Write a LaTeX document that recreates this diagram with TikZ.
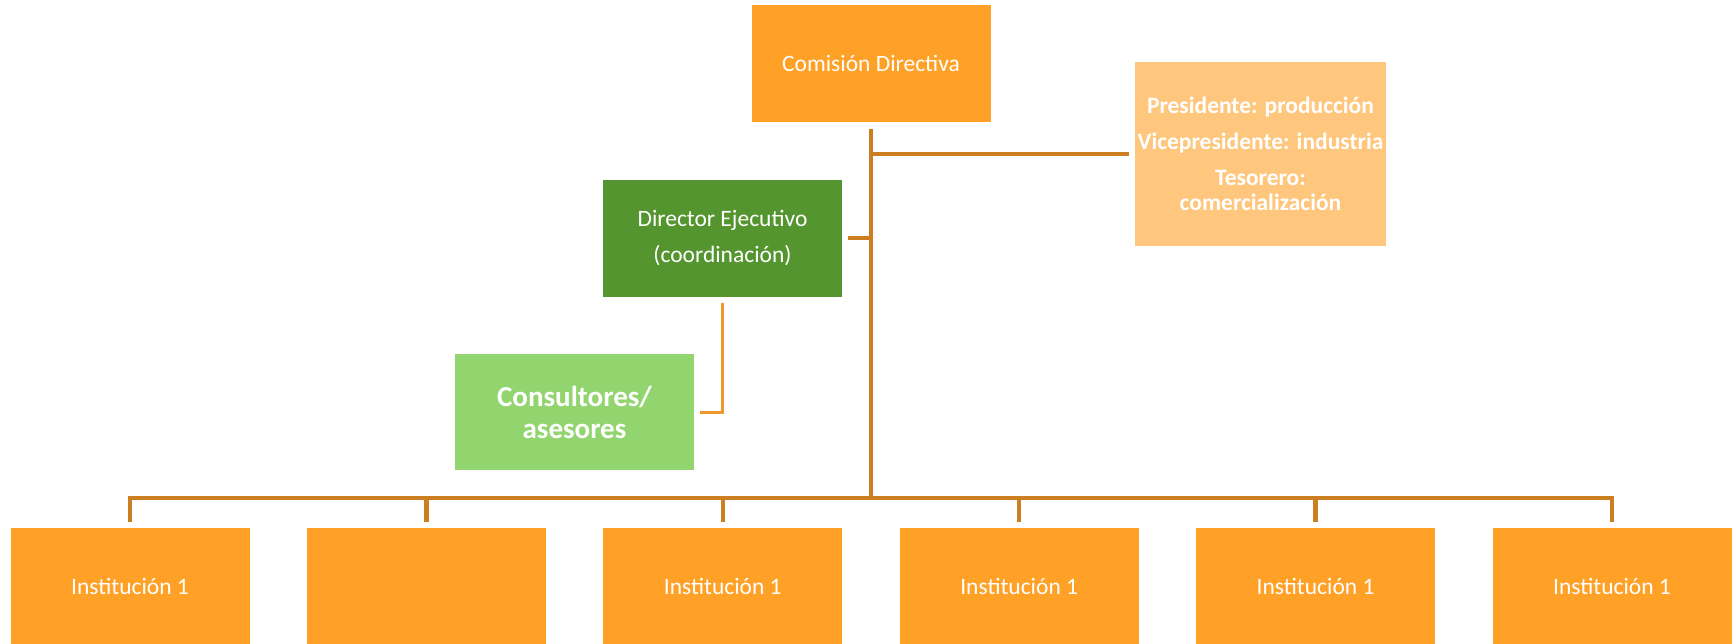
\documentclass[tikz,border=0pt]{standalone}
\usepackage{fontspec}
\setmainfont{Carlito}
\usepackage{tikz}
\usetikzlibrary{calc}
\definecolor{naranja}{HTML}{FFA126}
\definecolor{naranjaclaro}{HTML}{FFC77D}
\definecolor{verde}{HTML}{54952F}
\definecolor{verdeclaro}{HTML}{92D46D}
\definecolor{linea}{HTML}{CB7F21}
\definecolor{lineaclara}{HTML}{F0982C}
\tikzstyle{orangebox}=[rectangle,fill=naranja,text=white,inner sep=0pt,
                      minimum width=239pt,minimum height=117pt,align=center,
                      font=\fontsize{23.5}{36.5}\selectfont]
\tikzstyle{trunk}=[draw=linea,line width=4.5pt]
\tikzstyle{thinline}=[draw=lineaclara,line width=3pt]
\newcommand\instspacing{296.4}

\begin{document}
\begin{tikzpicture}[x=1pt,y=-1pt]
    \useasboundingbox (0,0) rectangle (1735,643);
    % comision y cargos
    \node [orangebox] (comision) at (871,63.5) {Comisión Directiva};
    \node [orangebox,fill=naranjaclaro,minimum width=251pt,minimum height=184pt,
           font=\fontsize{23.5}{25.5}\selectfont\bfseries] (presidente) at (1260.5,154) {
        Presidente: producción\\[10.5pt]
        Vicepresidente: industria\\[10.5pt]
        Tesorero:\\comercialización
    };
    \node [orangebox,fill=verde] (director) at (722.5,238) {
        Director Ejecutivo\\(coordinación)
    };
    \node [orangebox,fill=verdeclaro,minimum height=116pt,
           font=\fontsize{29}{32}\selectfont\bfseries] (consultores) at (574.5,412) {
        Consultores/\\asesores
    };
    % instituciones
    \foreach \i/\txt in {1/Institución 1,2/,3/Institución 1,4/Institución 1,5/Institución 1,6/Institución 1}
        \node [orangebox] (inst\i) at ({130+\instspacing*(\i-1)},586.5) {\txt};
    \coordinate (bus) at (871,498);
    % conectores
    \draw [trunk] ([yshift=-7pt]comision.south) -- (bus);
    \draw [trunk] (comision.south |- presidente.west) -- ([xshift=-6pt]presidente.west);
    \draw [trunk] ([xshift=6pt]director.east) -- (comision.south |- director.east);
    \draw [thinline] ([yshift=-6pt]director.south) |- ([xshift=6pt]consultores.east);
    \draw [trunk] ([yshift=6pt]inst1.north) |- (bus) -| ([yshift=6pt]inst6.north);
    \foreach \i in {2,...,5}
        \draw [trunk] (inst\i.north |- bus) -- ([yshift=6pt]inst\i.north);
\end{tikzpicture}
\end{document}
